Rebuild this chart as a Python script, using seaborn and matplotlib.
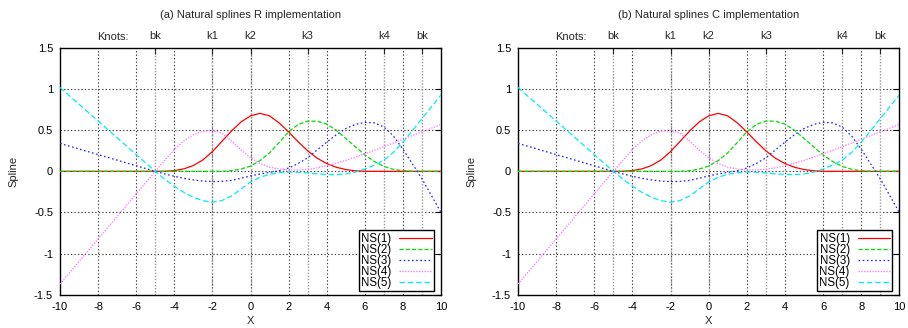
import numpy as np
import matplotlib
matplotlib.use("Agg")
import matplotlib.pyplot as plt
import matplotlib.transforms as mtransforms
import seaborn as sns

# Sample positions along X
X = [-10, -9.5, -9, -8.5, -8, -7.5, -7, -6.5, -6, -5.5, -5,
     -4.5, -4, -3.5, -3, -2.5, -2, -1.5, -1, -0.5, 0,
     0.5, 1, 1.5, 2, 2.5, 3, 3.5, 4, 4.5, 5,
     5.5, 6, 6.5, 7, 7.5, 8, 8.5, 9, 9.5, 10]

# Natural spline basis values at the sample positions
NS1 = [0, 0, 0, 0, 0, 0, 0, 0, 0, 0, 0,
       0.001, 0.009, 0.03, 0.071, 0.139, 0.24, 0.365, 0.49, 0.6, 0.675,
       0.705, 0.675, 0.59, 0.48, 0.36, 0.25, 0.16, 0.095, 0.05, 0.022,
       0.007, 0.001, 0, 0, 0, 0, 0, 0, 0, 0]
NS2 = [0, 0, 0, 0, 0, 0, 0, 0, 0, 0, 0,
       0, 0, 0, 0, 0, 0, 0.001, 0.008, 0.027, 0.065,
       0.13, 0.225, 0.35, 0.48, 0.57, 0.61, 0.61, 0.575, 0.5, 0.4,
       0.3, 0.2, 0.12, 0.06, 0.025, 0.008, 0.001, 0, 0, 0]
NS3 = [0.34, 0.306, 0.272, 0.238, 0.204, 0.17, 0.136, 0.102, 0.068, 0.034, 0,
       -0.032, -0.06, -0.085, -0.104, -0.118, -0.125, -0.122, -0.11, -0.085, -0.055,
       -0.032, -0.013, 0.007, 0.04, 0.095, 0.165, 0.26, 0.355, 0.445, 0.52,
       0.57, 0.595, 0.59, 0.54, 0.43, 0.27, 0.09, -0.09, -0.295, -0.5]
NS4 = [-1.37, -1.233, -1.096, -0.959, -0.822, -0.685, -0.548, -0.411, -0.274, -0.137, 0,
       0.135, 0.265, 0.37, 0.445, 0.49, 0.495, 0.465, 0.37, 0.26, 0.165,
       0.095, 0.052, 0.027, 0.016, 0.016, 0.025, 0.043, 0.068, 0.098, 0.133,
       0.172, 0.213, 0.256, 0.3, 0.345, 0.39, 0.435, 0.48, 0.525, 0.57]
NS5 = [1.02, 0.918, 0.816, 0.714, 0.612, 0.51, 0.408, 0.306, 0.204, 0.102, 0,
       -0.095, -0.18, -0.255, -0.315, -0.357, -0.375, -0.355, -0.3, -0.215, -0.13,
       -0.072, -0.036, -0.016, -0.009, -0.011, -0.02, -0.03, -0.037, -0.04, -0.032,
       -0.01, 0.028, 0.075, 0.135, 0.23, 0.355, 0.495, 0.64, 0.785, 0.93]

SERIES = [NS1, NS2, NS3, NS4, NS5]
LABELS = ["NS(1)", "NS(2)", "NS(3)", "NS(4)", "NS(5)"]
COLORS = ["#ff0000", "#00dd00", "#2222ff", "#ff77ff", "#00eeee"]
STYLES = ["-", (0, (3, 1.5)), (0, (1.2, 1.8)), (0, (1, 1)), (0, (4, 2))]

KNOT_POS = [-5, -2, 0, 3, 7, 9]
KNOT_LABELS = ["bk", "k1", "k2", "k3", "k4", "bk"]
TITLES = ["(a) Natural splines R implementation",
          "(b) Natural splines C implementation"]

sns.set_style("white")
plt.rcParams["font.family"] = ["Liberation Sans", "DejaVu Sans"]
plt.rcParams["font.size"] = 8
plt.rcParams["lines.scale_dashes"] = False

fig = plt.figure(figsize=(9.08, 3.28), dpi=100)
W, H = 908.0, 328.0
panels = [(60, 441), (518, 899.3)]
top_px, bot_px = 48.0, 294.7
ph = bot_px - top_px

for (left, right), title in zip(panels, TITLES):
    pw = right - left
    ax = fig.add_axes([left / W, (H - bot_px) / H, pw / W, ph / H])

    # grid lines: regular ticks and knot positions
    for gx in range(-8, 9, 2):
        ax.axvline(gx, color="#444444", lw=0.8, ls=(0, (1, 1.5)), zorder=0)
    for gy in [-1, -0.5, 0, 0.5, 1]:
        ax.axhline(gy, color="#444444", lw=0.8, ls=(0, (1, 1.5)), zorder=0)
    for kx in KNOT_POS:
        ax.axvline(kx, color="#999999", lw=1.0, ls=(0, (1, 1.2)), zorder=0)

    for vals, lab, col, sty in zip(SERIES, LABELS, COLORS, STYLES):
        sns.lineplot(x=X, y=vals, ax=ax, color=col, linestyle=sty, lw=0.9,
                     label=lab, estimator=None, sort=False, zorder=3)

    ax.set_xlim(-10, 10)
    ax.set_ylim(-1.5, 1.5)
    ax.set_xticks(range(-10, 11, 2))
    ax.set_yticks([-1.5, -1, -0.5, 0, 0.5, 1, 1.5])
    ax.set_yticklabels(["-1.5", "-1", "-0.5", "0", "0.5", "1", "1.5"])
    ax.set_xticklabels([str(v) for v in range(-10, 11, 2)])
    ax.tick_params(axis="both", direction="in", length=4, width=0.8, pad=5,
                   labelsize=8, colors="black")
    ax.tick_params(axis="y", right=True)
    for sp in ax.spines.values():
        sp.set_color("black")
        sp.set_linewidth(1.0)

    ax.set_xlabel("X", fontsize=8, va="center")
    ax.set_ylabel("Spline", fontsize=8, va="center")
    ax.xaxis.set_label_coords(0.5, -(321.5 - bot_px) / ph)
    ax.yaxis.set_label_coords(-47.0 / pw, 0.5)

    # knot labels along the top edge
    sec = ax.secondary_xaxis("top")
    sec.set_xticks(KNOT_POS)
    sec.set_xticklabels(KNOT_LABELS)
    sec.tick_params(direction="in", length=4, width=0.8, pad=5, labelsize=8)
    sec.spines["top"].set_visible(False)
    trans = mtransforms.blended_transform_factory(ax.transData, ax.transAxes)
    ax.text(-7.25, 1 + 11.3 / ph, "Knots:", transform=trans,
            ha="center", va="center", fontsize=8)

    fig.text(((left + right) / 2) / W, 1 - 14.5 / H, title,
             ha="center", va="center", fontsize=8)

    leg = ax.legend(loc="lower right", bbox_to_anchor=(1 - 7.0 / pw, 3.5 / ph),
                    markerfirst=False, frameon=True, fancybox=False, framealpha=1,
                    edgecolor="black", fontsize=8.3, handlelength=2.8, handletextpad=0.7,
                    labelspacing=-0.08, borderpad=0.2, borderaxespad=0)
    leg.get_frame().set_linewidth(1.0)
    for t in leg.get_texts():
        t.set_color("black")

fig.savefig("out.png", dpi=100)
